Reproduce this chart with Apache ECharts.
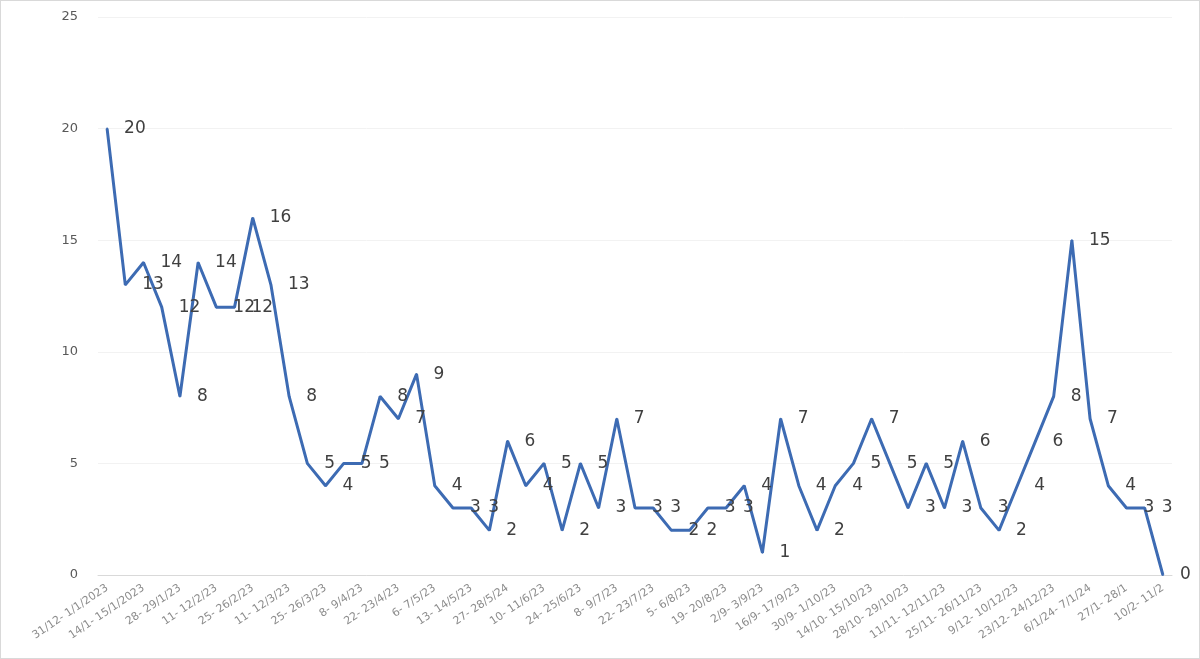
<!DOCTYPE html>
<html>
<head>
<meta charset="utf-8">
<script src="https://cdn.jsdelivr.net/npm/echarts@6/dist/echarts.min.js"></script>
<style>
    html, body { margin: 0; padding: 0; background: #fff; }
    #line { width: 1198px; height: 657px; border: 1px solid #d9d9d9; }
</style>
</head>
<body>
<div id="line"></div>
<script>
// weekly periods (only every second one is labelled in the picture)
var weeks = [
    '31/12- 1/1/2023', '7/1- 8/1/2023', '14/1- 15/1/2023', '21- 22/1/23', '28- 29/1/23',
    '4- 5/2/23', '11- 12/2/23', '18- 19/2/23', '25- 26/2/23', '4- 5/3/23',
    '11- 12/3/23', '18- 19/3/23', '25- 26/3/23', '1- 2/4/23', '8- 9/4/23',
    '15- 16/4/23', '22- 23/4/23', '29- 30/4/23', '6- 7/5/23', '9- 10/5/23',
    '13- 14/5/23', '20- 21/5/23', '27- 28/5/24', '3- 4/6/23', '10- 11/6/23',
    '17- 18/6/23', '24- 25/6/23', '1- 2/7/23', '8- 9/7/23', '15- 16/7/23',
    '22- 23/7/23', '29- 30/7/23', '5- 6/8/23', '12- 13/8/23', '19- 20/8/23',
    '26- 27/8/23', '2/9- 3/9/23', '9/9- 10/9/23', '16/9- 17/9/23', '23/9- 24/9/23',
    '30/9- 1/10/23', '7/10- 8/10/23', '14/10- 15/10/23', '21/10- 22/10/23', '28/10- 29/10/23',
    '4/11- 5/11/23', '11/11- 12/11/23', '18/11- 19/11/23', '25/11- 26/11/23', '2/12- 3/12/23',
    '9/12- 10/12/23', '16/12- 17/12/23', '23/12- 24/12/23', '30/12- 31/12/23', '6/1/24- 7/1/24',
    '20/1- 21/1', '27/1- 28/1', '3/2- 4/2', '10/2- 11/2'
];

var counts = [
    20, 13, 14, 12, 8, 14, 12, 12, 16, 13,
    8, 5, 4, 5, 5, 8, 7, 9, 4, 3,
    3, 2, 6, 4, 5, 2, 5, 3, 7, 3,
    3, 2, 2, 3, 3, 4, 1, 7, 4, 2,
    4, 5, 7, 5, 3, 5, 3, 6, 3, 2,
    4, 6, 8, 15, 7, 4, 3, 3, 0
];

var yTicks = [0, 5, 10, 15, 20, 25];

var chart = echarts.init(document.getElementById('line'));
var option = {
    animation: false,
    grid: {
        left: 97,
        right: 27,
        top: 16,
        bottom: 83
    },
    xAxis: {
        type: 'category',
        boundaryGap: true,
        data: weeks,
        axisLine: { lineStyle: { color: '#d9d9d9' } },
        axisTick: { show: false },
        axisLabel: {
            interval: 1,
            rotate: 34,
            fontSize: 11,
            color: '#8c8c8c',
            fontFamily: 'DejaVu Sans',
            margin: 12
        }
    },
    yAxis: {
        type: 'value',
        min: yTicks[0],
        max: yTicks[yTicks.length - 1],
        interval: 5,
        axisLine: { show: false },
        axisTick: { show: false },
        splitLine: { lineStyle: { color: '#f2f2f2' } },
        axisLabel: {
            color: '#595959',
            fontSize: 13,
            fontFamily: 'DejaVu Sans',
            margin: 20
        }
    },
    series: [
        {
            name: 'counts',
            type: 'line',
            data: counts,
            symbol: 'circle',
            symbolSize: 2,
            showSymbol: true,
            showAllSymbol: true,
            itemStyle: { color: '#3d6bb3' },
            lineStyle: { color: '#3d6bb3', width: 3 },
            label: {
                show: true,
                position: 'right',
                distance: 16,
                color: '#404040',
                fontSize: 17,
                fontFamily: 'DejaVu Sans'
            }
        }
    ]
};
chart.setOption(option);
</script>
</body>
</html>
